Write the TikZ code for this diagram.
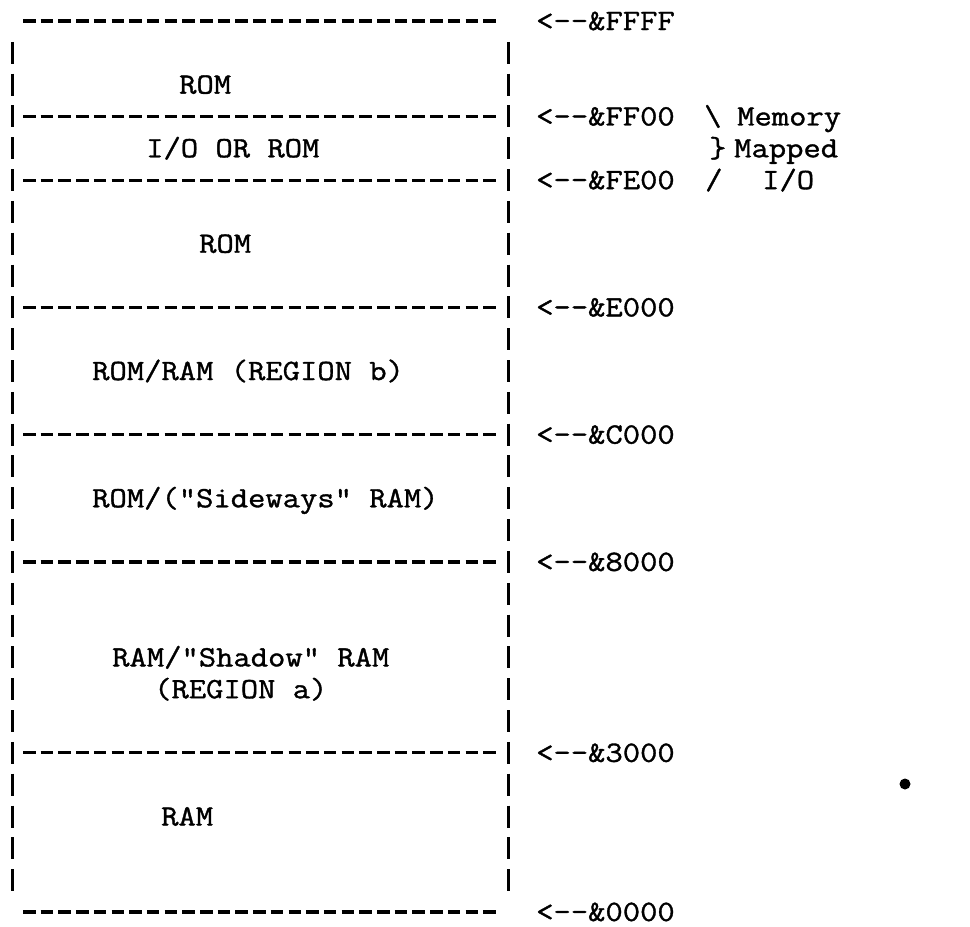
\documentclass[tikz,border=0pt]{standalone}
\usepackage{fontspec}
\setmonofont{Latin Modern Mono}[FakeStretch=1.14,FakeBold=1.2]
\begin{document}
\begin{tikzpicture}[x=1pt,y=-1pt,
  lbl/.style={font=\ttfamily\fontsize{29.5}{32}\selectfont, inner sep=0pt, anchor=base west},
  rulerow/.style={line width=3.2pt, dash pattern=on 12.5pt off 5.2pt},
  barcol/.style={line width=3pt, dash pattern=on 22pt off 9.82pt}]
\useasboundingbox (0,0) rectangle (970,927);
\def\ry#1{21+31.82*(#1-1)}
% horizontal dashed rows
\foreach \i in {1,4,6,10,14,18,24,29}{
  \coordinate (hs\i) at (23,{\ry{\i}});
  \coordinate (he\i) at (495.7,{\ry{\i}});
  \draw[rulerow] (hs\i) -- (he\i);
}
% vertical bars
\coordinate (lt) at (12.5,{\ry{2}-11});
\coordinate (lb) at (12.5,{\ry{28}+11.5});
\coordinate (rt) at (508,{\ry{2}-11});
\coordinate (rb) at (508,{\ry{28}+11.5});
\draw[barcol] (lt) -- (lb);
\draw[barcol] (rt) -- (rb);
% address labels
\foreach \i/\t in {1/FFFF,4/FF00,6/FE00,10/E000,14/C000,18/8000,24/3000,29/0000}{
  \node[lbl] (addr\i) at (536,{\ry{\i}+9}) {<-{}-\&\t};
}
% memory mapped I/O note
\node[lbl] (bs) at (704,{\ry{4}+9}) {\textbackslash};
\node[lbl] (memory) at (737,{\ry{4}+9}) {Memory};
\node[lbl] (brace) at (709,{\ry{5}+9}) {\}};
\node[lbl] (mapped) at (734,{\ry{5}+9}) {Mapped};
\node[lbl] (sl) at (705,{\ry{6}+9}) {/};
\node[lbl] (io) at (762,{\ry{6}+9}) {I/O};
% region labels
\node[lbl] (rom1) at (179,{\ry{3}+9}) {ROM};
\node[lbl] (ioorrom) at (146,{\ry{5}+9}) {I/O OR ROM};
\node[lbl] (rom2) at (199,{\ry{8}+9}) {ROM};
\node[lbl] (regb) at (92,{\ry{12}+9}) {ROM/RAM (REGION b)};
\node[lbl] (sideways) at (92,{\ry{16}+9}) {ROM/("Sideways" RAM)};
\node[lbl] (shadow) at (112,{\ry{21}+9}) {RAM/"Shadow" RAM};
\node[lbl] (rega) at (154,{\ry{22}+9}) {(REGION a)};
\node[lbl] (ram) at (161,{\ry{26}+9}) {RAM};
% speck
\fill (905,784) circle (5.5);
\end{tikzpicture}
\end{document}
